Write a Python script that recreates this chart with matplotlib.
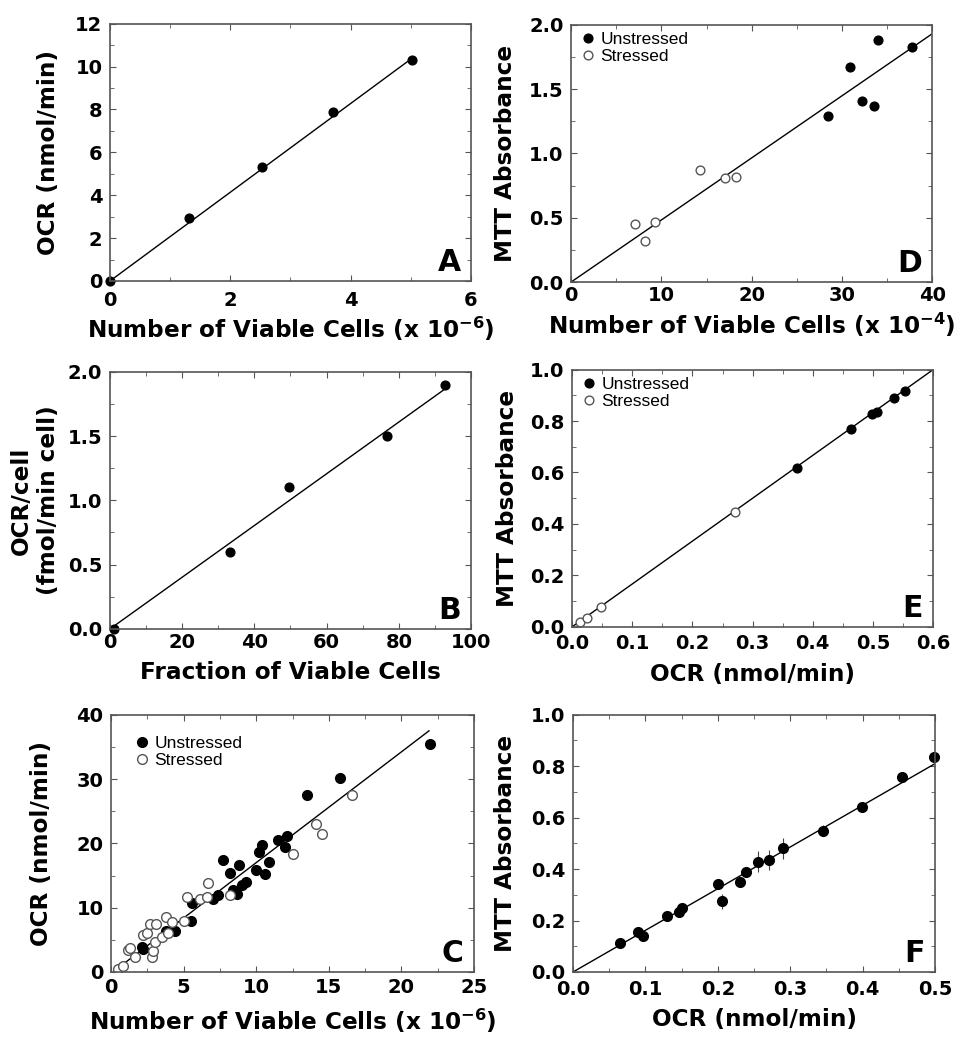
import numpy as np
import matplotlib.pyplot as plt
from matplotlib.ticker import MultipleLocator, FormatStrFormatter

plt.rcParams['font.family'] = ['DejaVu Sans']
plt.rcParams['mathtext.fontset'] = 'dejavusans'
plt.rcParams['mathtext.default'] = 'bf'

# panel A
a_x = [0.0, 1.32, 2.52, 3.71, 5.02]
a_y = [0.0, 2.93, 5.34, 7.86, 10.32]

# panel B
b_x = [1.0, 33.2, 49.7, 76.6, 92.9]
b_y = [0.0, 0.60, 1.10, 1.50, 1.90]

# panel C
c_un_x = [2.1, 2.2, 3.8, 4.4, 5.5, 5.6, 7.0, 7.4, 7.7, 8.2, 8.4, 8.7, 8.8, 9.0, 9.3,
          10.0, 10.2, 10.4, 10.6, 10.9, 11.5, 12.0, 12.1, 13.5, 15.8, 22.0]
c_un_y = [3.9, 3.5, 6.3, 6.3, 8.0, 10.7, 11.4, 11.9, 17.4, 15.4, 12.7, 12.2, 16.6, 13.5, 14.0,
          15.8, 18.6, 19.7, 15.3, 17.1, 20.5, 19.5, 21.1, 27.5, 30.2, 35.4]
c_st_x = [0.5, 0.85, 1.2, 1.3, 1.65, 2.2, 2.5, 2.7, 2.8, 2.9, 3.0, 3.1, 3.5, 3.9, 3.8, 4.2,
          5.0, 5.2, 6.1, 6.6, 6.7, 8.2, 12.5, 14.1, 14.5, 16.6]
c_st_y = [0.4, 0.9, 3.4, 3.7, 2.3, 5.7, 6.0, 7.4, 2.4, 3.2, 4.7, 7.5, 5.5, 6.0, 8.6, 7.8,
          8.0, 11.6, 11.4, 11.7, 13.9, 11.9, 18.3, 23.0, 21.4, 27.5]

# panel D
d_un_x = [28.5, 30.9, 32.2, 33.5, 34.0, 37.8]
d_un_y = [1.29, 1.67, 1.41, 1.37, 1.88, 1.83]
d_st_x = [7.1, 8.2, 9.3, 14.3, 17.0, 18.3]
d_st_y = [0.45, 0.32, 0.47, 0.87, 0.81, 0.82]

# panel E
e_un_x = [0.373, 0.463, 0.498, 0.506, 0.535, 0.553]
e_un_y = [0.616, 0.768, 0.827, 0.837, 0.889, 0.918]
e_st_x = [0.013, 0.025, 0.048, 0.270]
e_st_y = [0.020, 0.035, 0.078, 0.445]

# panel F
f_x = [0.065, 0.090, 0.096, 0.130, 0.146, 0.151, 0.200, 0.206, 0.230, 0.239,
       0.255, 0.270, 0.290, 0.345, 0.399, 0.454, 0.499]
f_y = [0.112, 0.155, 0.141, 0.218, 0.235, 0.247, 0.342, 0.274, 0.351, 0.390,
       0.429, 0.435, 0.481, 0.549, 0.642, 0.758, 0.836]
f_err = [0.010, 0.010, 0.010, 0.010, 0.010, 0.010, 0.012, 0.030, 0.012, 0.012,
         0.040, 0.040, 0.040, 0.022, 0.015, 0.020, 0.010]

fig = plt.figure(figsize=(9.68, 10.5), dpi=100)

W = 0.373
H = 0.245
axA = fig.add_axes([0.1136, 0.7324, W, H])
axD = fig.add_axes([0.590, 0.7314, W, H])
axB = fig.add_axes([0.1136, 0.401, W, H])
axE = fig.add_axes([0.591, 0.403, W, H])
axC = fig.add_axes([0.1147, 0.0743, 0.375, H])
axF = fig.add_axes([0.592, 0.0743, 0.374, H])

LBL = 16.7


def style(ax, xlim, ylim, xmaj, xmin, ymaj, ymin, letter, xpad, fmt=None):
    ax.set_xlim(xlim)
    ax.set_ylim(ylim)
    ax.xaxis.set_major_locator(MultipleLocator(xmaj))
    ax.xaxis.set_minor_locator(MultipleLocator(xmin))
    ax.yaxis.set_major_locator(MultipleLocator(ymaj))
    ax.yaxis.set_minor_locator(MultipleLocator(ymin))
    if fmt:
        if 'x' in fmt:
            ax.xaxis.set_major_formatter(FormatStrFormatter('%.1f'))
        if 'y' in fmt:
            ax.yaxis.set_major_formatter(FormatStrFormatter('%.1f'))
    ax.tick_params(which='both', direction='in', top=True, right=True,
                   color='#555555', labelsize=14)
    ax.tick_params(axis='x', pad=xpad)
    ax.tick_params(axis='y', pad=5.5)
    ax.tick_params(which='major', length=4.5)
    ax.tick_params(which='minor', length=3)
    for lab in ax.get_xticklabels() + ax.get_yticklabels():
        lab.set_fontweight('bold')
    for s in ax.spines.values():
        s.set_color('#555555')
        s.set_linewidth(1.2)
    ax.text(0.972, 0.039, letter, transform=ax.transAxes, ha='right', va='baseline',
            fontsize=21.5, fontweight='bold')


def labels(ax, xl, yl, xy, yx):
    ax.set_xlabel(xl, fontsize=LBL, fontweight='bold')
    ax.set_ylabel(yl, fontsize=LBL, fontweight='bold')
    ax.xaxis.set_label_coords(0.5, xy)
    ax.yaxis.set_label_coords(yx, 0.5)


def legend(ax, pad=0.2):
    ax.legend(loc='upper left', frameon=False, handletextpad=0.1,
              borderaxespad=pad, labelspacing=0.12, handlelength=1.2,
              borderpad=pad, prop={'family': 'Liberation Sans', 'size': 12.5})


fill = dict(marker='o', ms=6.3, ls='none', color='black')
hollow = dict(marker='o', ms=6.3, ls='none', mfc='white', mec='#555555', mew=1.0)

# A
axA.plot([0, 5.0], [0, 10.35], color='black', lw=1)
axA.plot(a_x, a_y, clip_on=False, **fill)
style(axA, (0, 6), (0, 12), 2, 1, 2, 1, 'A', 7)
labels(axA, r'Number of Viable Cells (x 10$^{-6}$)', 'OCR (nmol/min)', -0.132, -0.139)

# D
axD.plot([0, 40], [0, 1.93], color='black', lw=1)
axD.plot(d_un_x, d_un_y, label='Unstressed', **fill)
axD.plot(d_st_x, d_st_y, label='Stressed', **hollow)
style(axD, (0, 40), (0, 2.0), 10, 5, 0.5, 0.25, 'D', 3, 'y')
labels(axD, r'Number of Viable Cells (x 10$^{-4}$)', 'MTT Absorbance', -0.113, -0.150)
legend(axD)

# B
axB.plot([0, 93], [0, 1.87], color='black', lw=1)
axB.plot(b_x, b_y, clip_on=False, **fill)
style(axB, (0, 100), (0, 2.0), 20, 10, 0.5, 0.25, 'B', 3, 'y')
labels(axB, 'Fraction of Viable Cells', 'OCR/cell\n(fmol/min cell)', -0.124, -0.139)

# E
axE.plot([0, 0.6], [0, 1.0], color='black', lw=1)
axE.plot(e_un_x, e_un_y, label='Unstressed', **fill)
axE.plot(e_st_x, e_st_y, label='Stressed', **hollow)
style(axE, (0, 0.6), (0, 1.0), 0.1, 0.05, 0.2, 0.1, 'E', 5.5, 'xy')
labels(axE, 'OCR (nmol/min)', 'MTT Absorbance', -0.140, -0.147)
legend(axE)

# C
fill['ms'] = 7
hollow['ms'] = 7
axC.plot([0.3, 21.9], [0.3, 37.5], color='black', lw=1)
axC.plot(c_un_x, c_un_y, label='Unstressed', **fill)
axC.plot(c_st_x, c_st_y, label='Stressed', **hollow)
style(axC, (0, 25), (0, 40), 5, 2.5, 10, 5, 'C', 4.3)
labels(axC, r'Number of Viable Cells (x 10$^{-6}$)', 'OCR (nmol/min)', -0.135, -0.160)
legend(axC, pad=0.6)

# F
axF.plot([0, 0.5], [0, 0.81], color='black', lw=1)
axF.errorbar(f_x, f_y, yerr=f_err, fmt='o', ms=7, color='black', ecolor='#444444',
             elinewidth=0.8, capsize=0, clip_on=False)
style(axF, (0, 0.5), (0, 1.0), 0.1, 0.05, 0.2, 0.1, 'F', 5.5, 'xy')
labels(axF, 'OCR (nmol/min)', 'MTT Absorbance', -0.140, -0.155)

fig.savefig('out.png', dpi=100)
